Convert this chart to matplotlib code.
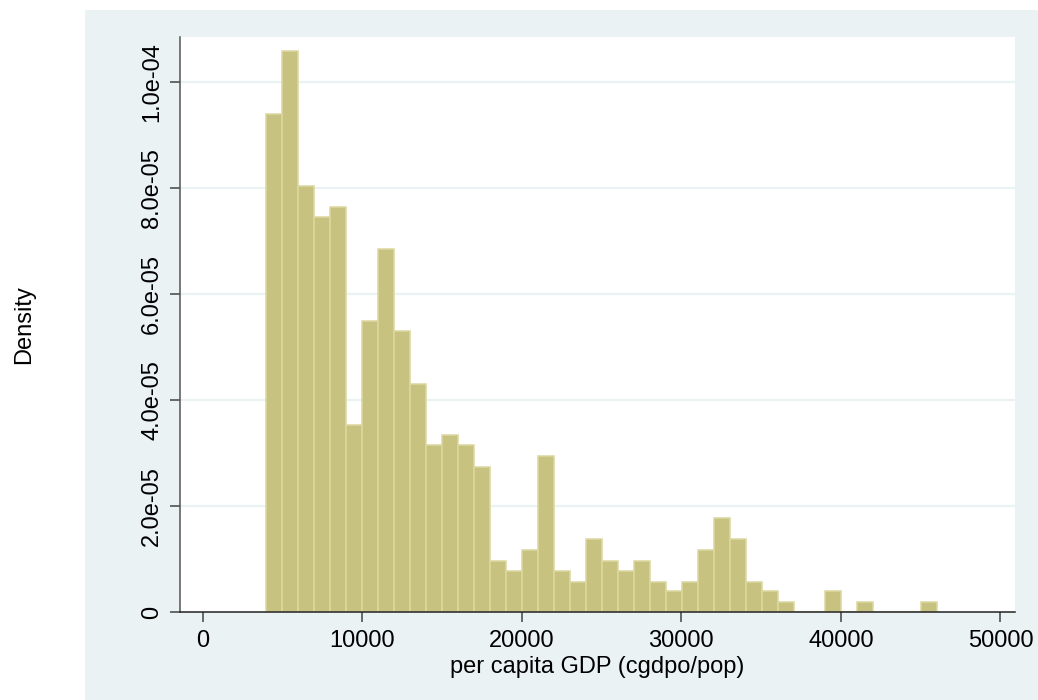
import numpy as np
import matplotlib
matplotlib.use("Agg")
from matplotlib import pyplot as plt
from matplotlib.patches import Rectangle

# histogram of per capita GDP, density per bin (x 1e-5)
bin_start = 4000
bin_width = 1001
density_e5 = [9.39, 10.57, 8.04, 7.44, 7.63, 3.52, 5.48, 6.85, 5.29, 4.30,
              3.14, 3.33, 3.14, 2.74, 0.97, 0.78, 1.17, 2.94, 0.78, 0.57,
              1.37, 0.97, 0.78, 0.97, 0.57, 0.40, 0.57, 1.17, 1.77, 1.37,
              0.57, 0.40, 0.195, 0, 0, 0.40, 0, 0.195, 0, 0,
              0, 0.195]

x_ticks = [0, 10000, 20000, 30000, 40000, 50000]
y_ticks = [0, 2e-5, 4e-5, 6e-5, 8e-5, 1e-4]
y_tick_labels = ["0", "2.0e-05", "4.0e-05", "6.0e-05", "8.0e-05", "1.0e-04"]

plt.rcParams['font.family'] = ['Liberation Sans', 'DejaVu Sans']

bg = '#eaf2f3'
fig = plt.figure(figsize=(10.38, 7.0), dpi=100)
fig.patch.set_facecolor('white')
# stata style outer panel, behind the axes
fig.patches.append(Rectangle((85 / 1038, 0), 1 - 85 / 1038, 690 / 700,
                             transform=fig.transFigure, facecolor=bg,
                             edgecolor='none', zorder=-5))

ax = fig.add_axes([180 / 1038, 1 - 612 / 700, 835 / 1038, 575 / 700])
ax.set_facecolor('white')

dens = np.array(density_e5) * 1e-5
lefts = bin_start + bin_width * np.arange(len(dens))
ax.bar(lefts, dens, width=bin_width, align='edge', color='#c8c280',
       edgecolor='#dcd7a0', linewidth=1.1, zorder=2)

ax.set_xlim(-1410, 50909)
ax.set_ylim(0, 1.0842e-4)

ax.set_xticks(x_ticks)
ax.set_xticklabels([str(v) for v in x_ticks])
ax.set_yticks(y_ticks)
ax.set_yticklabels(y_tick_labels)

# horizontal grid except at zero
for yv in y_ticks[1:]:
    ax.axhline(yv, color=bg, linewidth=1.6, zorder=1)

for s in ['top', 'right']:
    ax.spines[s].set_visible(False)
ax.spines['left'].set_color('#555555')
ax.spines['bottom'].set_color('#222222')
ax.spines['left'].set_linewidth(1.1)
ax.spines['bottom'].set_linewidth(1.1)

ax.tick_params(axis='x', length=7.2, width=1.1, color='#444444', labelsize=17, pad=6)
ax.tick_params(axis='y', length=7.2, width=1.1, color='#444444', labelsize=17, pad=5,
               labelrotation=90)
for lab in ax.get_yticklabels():
    lab.set_va('center')

ax.set_xlabel("per capita GDP (cgdpo/pop)", fontsize=17)
ax.xaxis.set_label_coords(0.5, -0.106)
ax.xaxis.label.set_va('baseline')
ax.set_ylabel("Density", fontsize=17)
ax.yaxis.set_label_coords(-0.1796, 0.5)
ax.yaxis.label.set_va('baseline')

plt.savefig('out.png', dpi=100)
